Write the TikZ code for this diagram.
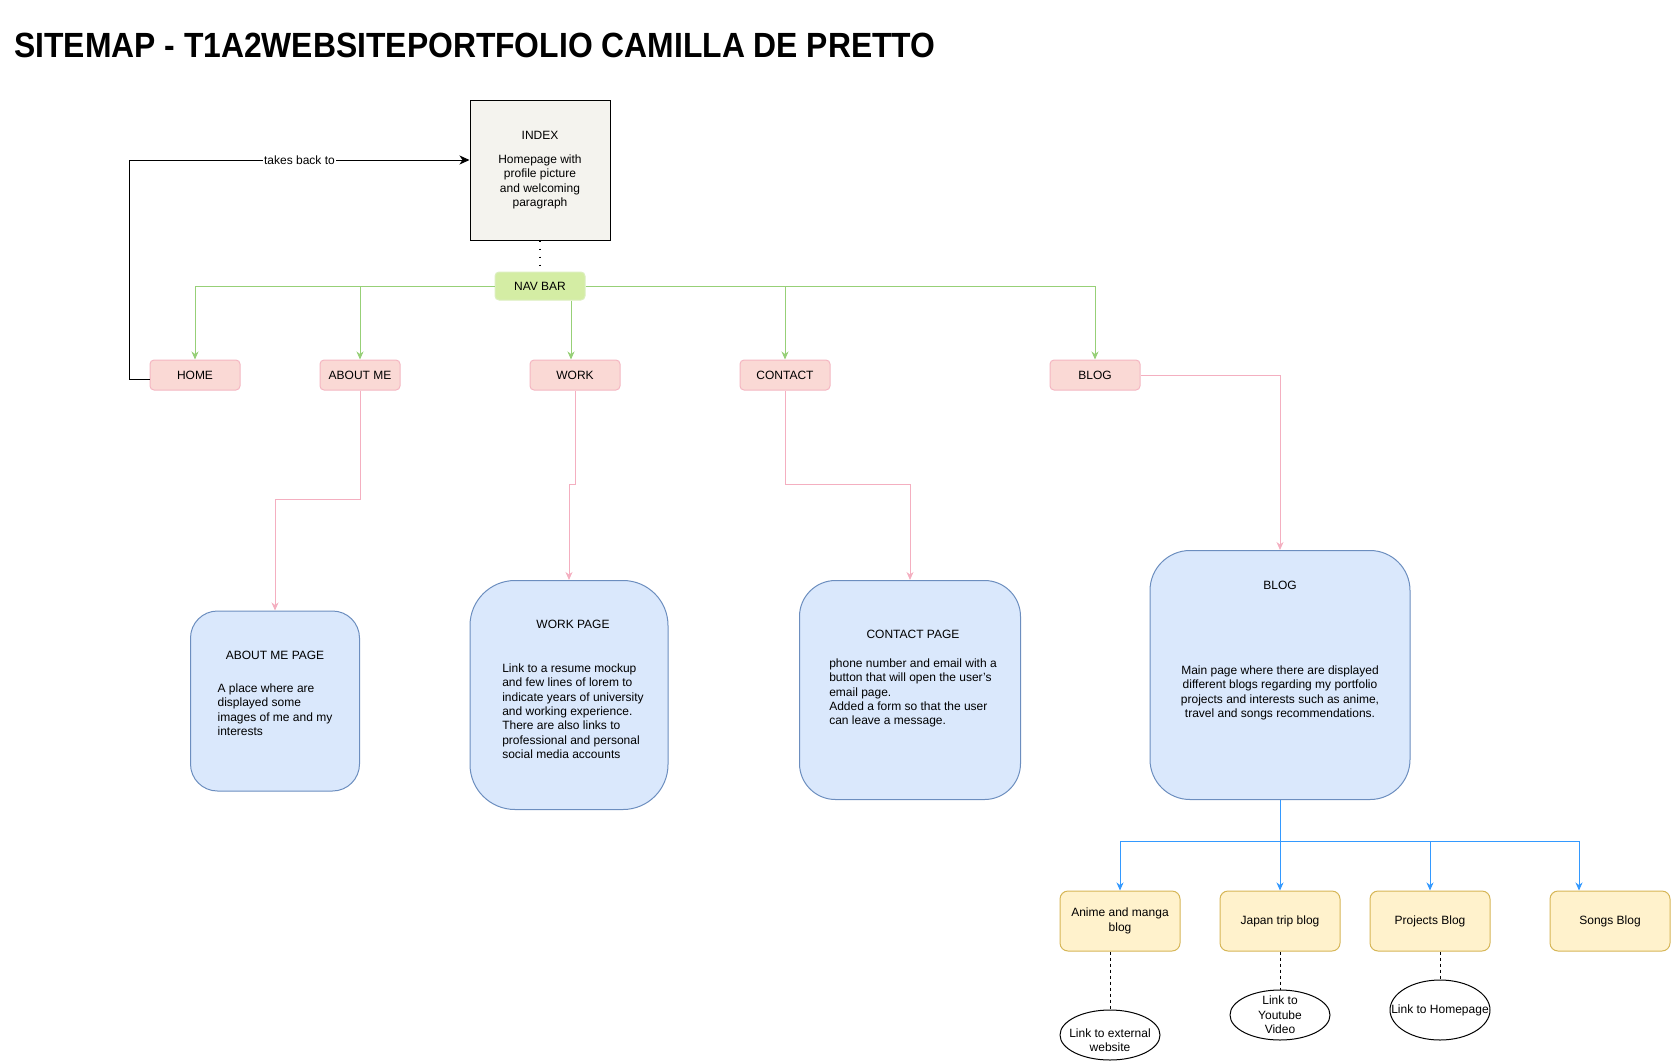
\documentclass[tikz,border=0pt]{standalone}
\usepackage{fontspec}
\setmainfont{Liberation Sans}
\newfontfamily\titlefont[FakeStretch=0.91]{Liberation Sans}
\usetikzlibrary{arrows.meta,shapes.geometric}

\definecolor{indexfill}{HTML}{F4F3EE}
\definecolor{navfill}{HTML}{D4EDA4}
\definecolor{navdraw}{HTML}{DCEFBF}
\definecolor{greenline}{HTML}{97D077}
\definecolor{pinkfill}{HTML}{FAD9D5}
\definecolor{pinkdraw}{HTML}{F4B6C2}
\definecolor{pinkline}{HTML}{F4AFC0}
\definecolor{bluefill}{HTML}{DAE8FC}
\definecolor{bluedraw}{HTML}{6C8EBF}
\definecolor{blueline}{HTML}{3399FF}
\definecolor{yellowfill}{HTML}{FFF2CC}
\definecolor{yellowdraw}{HTML}{D6B656}

\tikzset{
    base/.style={font=\fontsize{12}{14.4}\selectfont, inner sep=0pt, line width=1pt},
    indexbox/.style={base, draw=black, fill=indexfill, minimum width=140pt, minimum height=140pt, align=center},
    navbox/.style={base, draw=navdraw, fill=navfill, rounded corners=4pt, minimum width=90pt, minimum height=28pt},
    menubox/.style={base, draw=pinkdraw, fill=pinkfill, rounded corners=4pt, minimum width=90pt, minimum height=30pt},
    pagebox/.style={base, draw=bluedraw, fill=bluefill},
    blogbox/.style={base, draw=yellowdraw, fill=yellowfill, rounded corners=8pt, minimum width=120pt, minimum height=60pt, align=center},
    linkbubble/.style={base, ellipse, draw=black, fill=white, minimum width=100pt, minimum height=50pt},
    bubbletext/.style={base, align=center},
    tip/.style={-{Stealth[length=8pt,width=7pt,inset=2.5pt]}},
    navline/.style={draw=greenline, line width=1pt, tip},
    pageline/.style={draw=pinkline, line width=1pt, tip},
    blogline/.style={draw=blueline, line width=1pt, tip},
    backline/.style={draw=black, line width=1pt, -{Stealth[length=10pt,width=9pt,inset=3pt]}},
    linkline/.style={draw=black, line width=1pt, dash pattern=on 3pt off 3pt},
    dotline/.style={draw=black, line width=1.5pt, dash pattern=on 1.5pt off 6.5pt}
}

\begin{document}
\begin{tikzpicture}[x=1pt, y=-1pt]
    \useasboundingbox (0,0) rectangle (1671,1061);

    \node[anchor=base west, inner sep=0pt, font={\fontsize{35}{42}\titlefont\bfseries}] (title) at (14,57) {SITEMAP - T1A2WEBSITEPORTFOLIO CAMILLA DE PRETTO};

    % index and nav bar
    \node[indexbox] (index) at (540,170) {INDEX\\[10pt]Homepage with\\profile picture\\and welcoming\\paragraph};
    \node[navbox] (navbar) at (540,286) {NAV BAR};

    % menu entries
    \node[menubox] (home) at (195,375) {HOME};
    \node[menubox, minimum width=80pt] (aboutme) at (360,375) {ABOUT ME};
    \node[menubox] (work) at (575,375) {WORK};
    \node[menubox] (contact) at (785,375) {CONTACT};
    \node[menubox] (blog) at (1095,375) {BLOG};

    % pages
    \node[pagebox, rounded corners=27pt, minimum width=169pt, minimum height=180pt] (aboutpage) at (275,701)
        {\begin{tabular}{@{}l@{}}\multicolumn{1}{@{}c@{}}{ABOUT ME PAGE}\\[19pt]
        A place where are\\displayed some\\images of me and my\\interests\\[13pt]\end{tabular}};
    \node[pagebox, rounded corners=45pt, minimum width=198pt, minimum height=229pt] (workpage) at (569,695)
        {\begin{tabular}{@{\hspace{8pt}}l@{}}\multicolumn{1}{@{\hspace{8pt}}c@{}}{WORK PAGE}\\[29pt]
        Link to a resume mockup\\and few lines of lorem to\\indicate years of university\\and working experience.\\There are also links to\\professional and personal\\social media accounts\\[8pt]\end{tabular}};
    \node[pagebox, rounded corners=36pt, minimum width=221pt, minimum height=219pt] (contactpage) at (910,690)
        {\begin{tabular}{@{\hspace{6pt}}l@{}}\multicolumn{1}{@{\hspace{6pt}}c@{}}{CONTACT PAGE}\\[14pt]
        phone number and email with a\\button that will open the user's\\email page.\\Added a form so that the user\\can leave a message.\\[22pt]\end{tabular}};
    \node[pagebox, rounded corners=40pt, minimum width=260pt, minimum height=249pt] (blogpage) at (1280,675)
        {\begin{tabular}{@{}c@{}}BLOG\\[71pt]
        Main page where there are displayed\\different blogs regarding my portfolio\\projects and interests such as anime,\\travel and songs recommendations.\\[49pt]\end{tabular}};

    % blogs
    \node[blogbox] (anime) at (1120,921) {Anime and manga\\blog};
    \node[blogbox] (japan) at (1280,921) {Japan trip blog};
    \node[blogbox] (projects) at (1430,921) {Projects Blog};
    \node[blogbox] (songs) at (1610,921) {Songs Blog};

    % links
    \node[linkbubble, label={[bubbletext, yshift=-5pt]center:{Link to external\\website}}] (extlink) at (1110,1035) {};
    \node[linkbubble, label={[bubbletext]center:{Link to\\Youtube\\Video}}] (ytlink) at (1280,1015) {};
    \node[linkbubble, minimum height=60pt, label={[bubbletext]center:{Link to Homepage}}] (homelink) at (1440,1010) {};

    % connectors
    \draw[dotline] (index.south) -- (navbar.north);
    \draw[backline] ([yshift=-4pt]home.west) -- ++(-20,0) |- node[pos=0.75, base, fill=white, inner sep=1pt] (backlabel) {takes back to} ([yshift=10pt]index.west);

    \draw[navline] (navbar.west) -| (home.north);
    \draw[navline] (navbar.west) -| (aboutme.north);
    \draw[navline] ([xshift=-4pt]work.north |- navbar.south) -- ([xshift=-4pt]work.north);
    \draw[navline] (navbar.east) -| (contact.north);
    \draw[navline] (navbar.east) -| (blog.north);

    \draw[pageline] (aboutme.south) -- ++(0,109) -| (aboutpage.north);
    \draw[pageline] (work.south) -- ++(0,94) -| (workpage.north);
    \draw[pageline] (contact.south) -- ++(0,94) -| (contactpage.north);
    \draw[pageline] (blog.east) -| (blogpage.north);

    \draw[blogline] (blogpage.south) -- ++(0,41) coordinate (fork) -| (anime.north);
    \draw[blogline] (blogpage.south) -- (japan.north);
    \draw[blogline] (fork) -| (projects.north);
    \draw[blogline] (fork) -| ([xshift=-31pt]songs.north);

    \draw[linkline] (anime.south -| extlink.north) -- (extlink.north);
    \draw[linkline] (japan.south) -- (ytlink.north);
    \draw[linkline] (projects.south -| homelink.north) -- (homelink.north);
\end{tikzpicture}
\end{document}
